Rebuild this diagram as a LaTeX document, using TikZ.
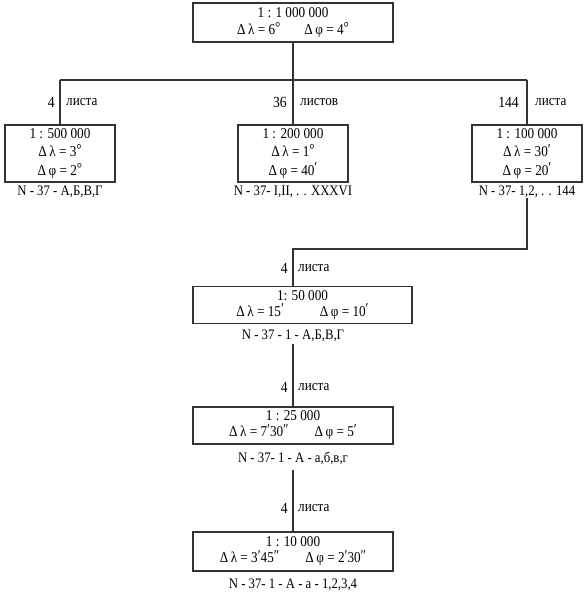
\documentclass[tikz,border=0pt]{standalone}
\usepackage{fontspec}
\setmainfont{Liberation Serif}[FakeStretch=0.88]
\newcommand\dg{\raisebox{2pt}{°}}
\newcommand\mn{\raisebox{2.5pt}{′}}
\newcommand\sd{\raisebox{2.5pt}{″}}
\newcommand\dl{Δ\,λ}
\newcommand\df{Δ\,φ}
\begin{document}
\begin{tikzpicture}[x=1pt,y=-1pt,
  ln/.style={draw=black!80,line width=1.3pt},
  box/.style={ln,inner sep=0pt,align=center,font=\fontsize{15}{17}\selectfont},
  tallbox/.style={box,minimum width=110pt,minimum height=57pt,font=\fontsize{15}{18.5}\selectfont},
  widebox/.style={box,minimum height=37pt,font=\fontsize{15}{16}\selectfont},
  lbl/.style={inner sep=0pt,font=\fontsize{14.5}{16}\selectfont},
  cnt/.style={inner sep=0pt,anchor=east,font=\fontsize{15.5}{17}\selectfont},
  sh/.style={inner sep=0pt,anchor=west,font=\fontsize{15}{17}\selectfont}]
\useasboundingbox (0,0) rectangle (587,597);
% boxes
\node[box,minimum width=200pt,minimum height=39pt] (top) at (293,22.5)
  {1 : 1 000 000\\\dl{} = 6\dg\hspace{24pt}\df{} = 4\dg};
\node[tallbox] (l) at (60,153.5) {1 : 500 000\\\dl{} = 3\dg\\\df{} = 2\dg};
\node[tallbox] (m) at (293,153.5) {1 : 200 000\\\dl{} = 1\dg\\\df{} = 40\mn};
\node[tallbox] (r) at (527,153.5) {1 : 100 000\\\dl{} = 30\mn\\\df{} = 20\mn};
\node[lbl] (ll) at (60,191.5) {N - 37 - А,Б,В,Г};
\node[lbl] (ml) at (293,191.5) {N - 37- I,II, . . XXXVI};
\node[lbl] (rl) at (527,191.5) {N - 37- 1,2, . . 144};
\node[widebox,minimum width=219pt] (b1) at (302.5,305) {1: 50 000\\\dl{} = 15\mn\hspace{36pt}\df{} = 10\mn};
\node[lbl] (b1l) at (293,336) {N - 37 - 1 - А,Б,В,Г};
\node[widebox,minimum width=200pt] (b2) at (293,425.5) {1 : 25 000\\\dl{} = 7\mn30\sd\hspace{26pt}\df{} = 5\mn};
\node[lbl] (b2l) at (293,458) {N - 37- 1 - А - а,б,в,г};
\node[widebox,minimum width=200pt,minimum height=39pt] (b3) at (293,551.5) {1 : 10 000\\\dl{} = 3\mn45\sd\hspace{26pt}\df{} = 2\mn30\sd};
\node[lbl] (b3l) at (293,585) {N - 37- 1 - А - а - 1,2,3,4};
% junctions
\coordinate (j1) at (293,80);
\coordinate (jl) at (60,80);
\coordinate (jr) at (527,80);
\coordinate (j2) at (293,249);
% connectors
\draw[ln] (top) -- (j1);
\draw[ln] (jl) -- (jr);
\draw[ln] (jl) -- (l);
\draw[ln] (j1) -- (m);
\draw[ln] (jr) -- (r);
\draw[ln] (rl.south -| r.south) |- (j2) -- (j2 |- b1.north);
\draw[ln] (b1l.south |- 0,344) -- (b1l.south |- b2.north);
\draw[ln] (b2l.south |- 0,470) -- (b2l.south |- b3.north);
% counts
\node[cnt] at (55,102) {4};
\node[sh] at (66,102) {листа};
\node[cnt] at (287,102) {36};
\node[sh] at (300,102) {листов};
\node[cnt] at (519,102) {144};
\node[sh] at (535,102) {листа};
\node[cnt] at (288,268) {4};
\node[sh] at (298,268) {листа};
\node[cnt] at (288,387) {4};
\node[sh] at (298,387) {листа};
\node[cnt] at (288,508) {4};
\node[sh] at (298,508) {листа};
\end{tikzpicture}
\end{document}
